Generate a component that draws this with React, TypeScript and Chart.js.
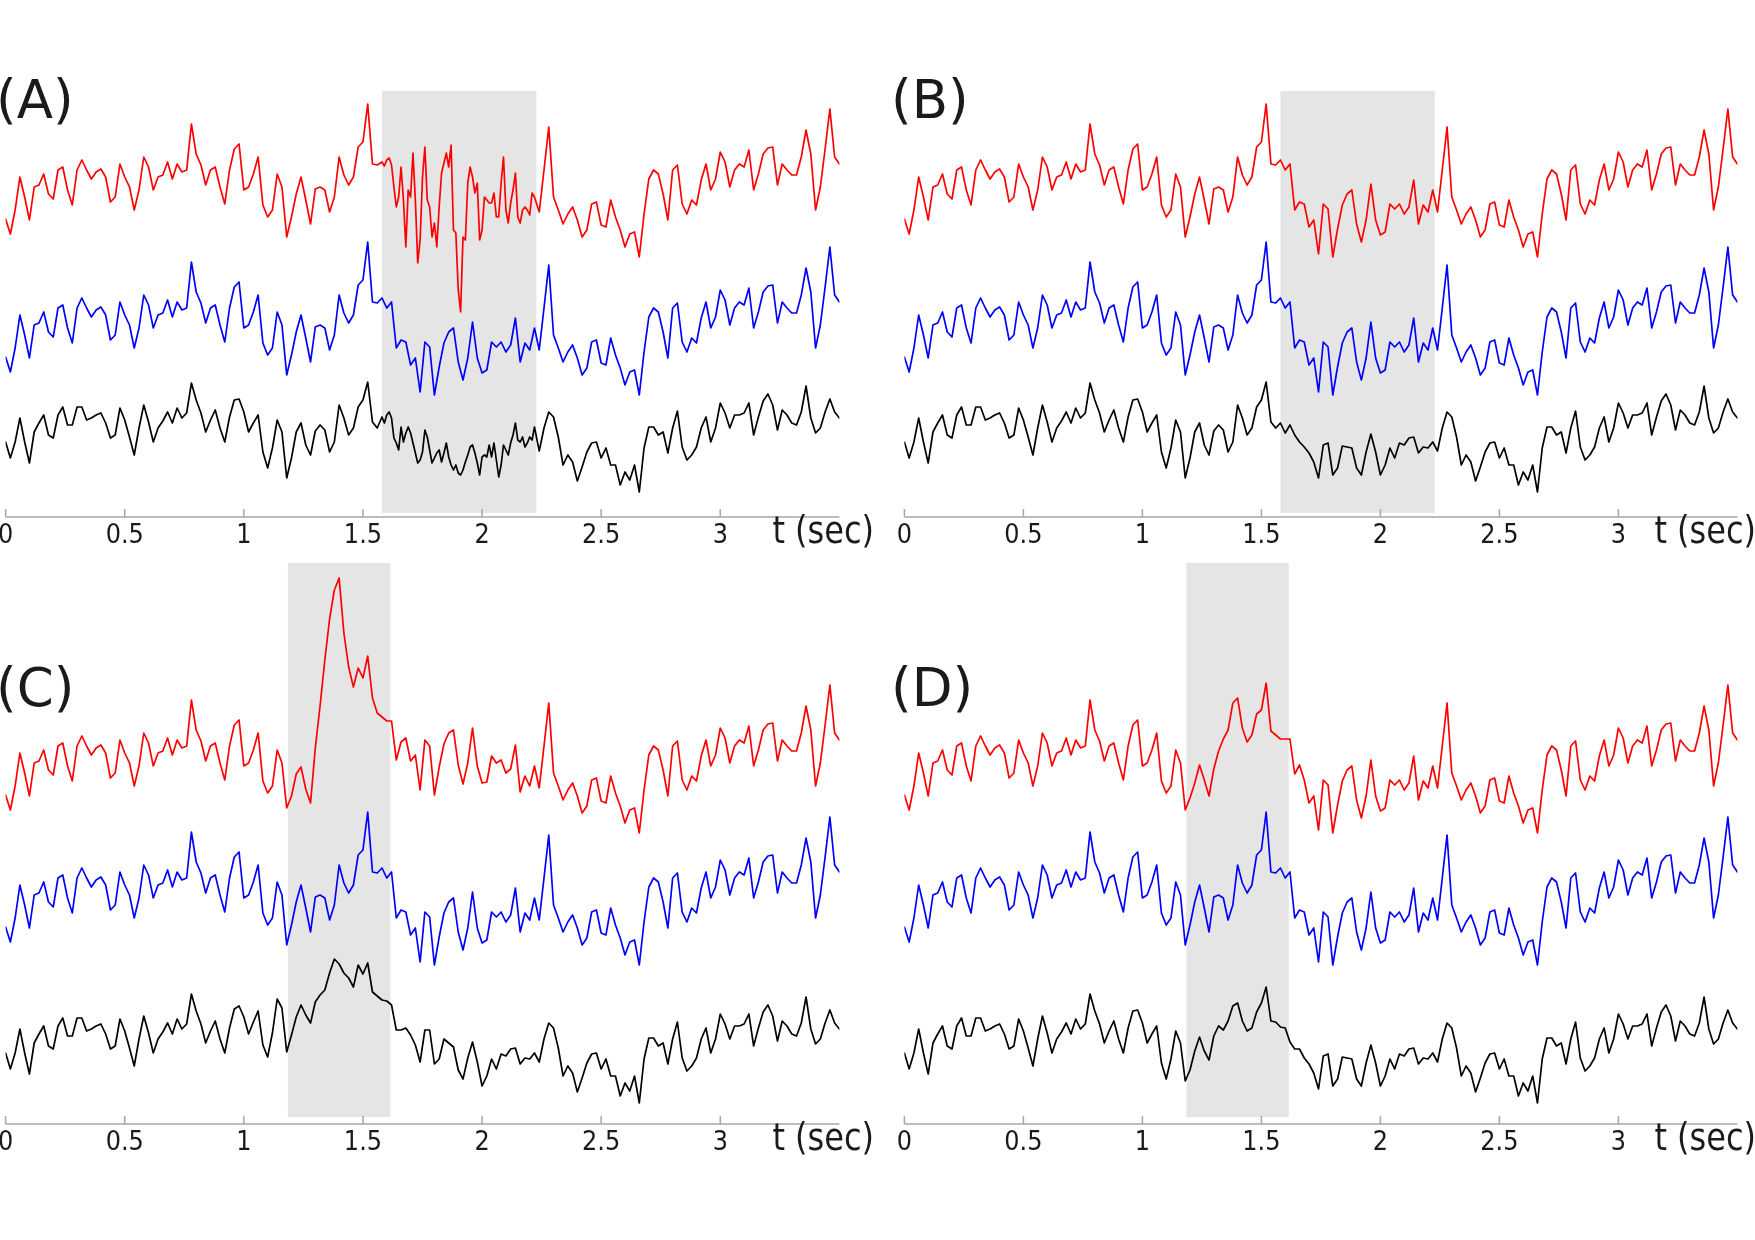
import React, { useEffect, useRef } from 'react';
import { Chart, registerables } from 'chart.js';
Chart.register(...registerables);

// ---- data (amplitudes, in screen-pixel units) ----
const T_STEP = 0.02; // base signals sampled every 0.02 s, 0 .. 3.5 s

const blueBase = [
  -2, -17, 7, 40, 20, -3, 30, 32, 43, 23,
  18, 47, 50, 27, 12, 47, 57, 47, 38, 45,
  48, 40, 15, 20, 53, 40, 30, 7, 27, 60,
  50, 27, 40, 42, 55, 38, 53, 45, 47, 93,
  63, 52, 32, 47, 50, 30, 13, 47, 68, 73,
  27, 30, 43, 60, 12, 0, 7, 43, 30, -20,
  0, 23, 40, 17, -7, 28, 30, 27, 5, 20,
  60, 42, 32, 40, 70, 75, 113, 53, 52, 57,
  47, 53, 7, 15, 13, -10, -3, -37, 13, 8,
  -40, -12, 12, 23, 27, -7, -25, -3, 33, -3,
  -18, -15, 13, 8, 13, 3, 10, 37, -7, 12,
  5, 27, 5, 47, 90, 20, 7, -7, 3, 10,
  -3, -20, -13, 13, 15, -8, -10, 17, 0, -13,
  -30, -17, -15, -40, 3, 38, 47, 43, 23, -3,
  47, 52, 13, 3, 17, 12, 37, 53, 27, 38,
  65, 55, 30, 47, 53, 50, 67, 27, 43, 63,
  69, 70, 32, 53, 47, 42, 42, 60, 87, 63,
  7, 30, 68, 108, 60, 53,
];

const blackBase = [
  3, -13, 3, 27, 3, -18, 13, 22, 30, 10,
  7, 30, 38, 20, 20, 38, 38, 25, 27, 30,
  32, 22, 7, 10, 37, 25, 8, -10, 17, 40,
  23, 3, 17, 24, 33, 22, 37, 27, 32, 62,
  45, 32, 13, 25, 35, 17, 3, 28, 45, 46,
  33, 13, 22, 30, -7, -23, -3, 25, 13, -33,
  -13, 13, 22, 0, -10, 14, 20, 15, -7, 3,
  40, 27, 10, 17, 38, 45, 63, 23, 17, 22,
  12, 20, 10, 3, -2, -8, -17, -33, 0, 2,
  -30, -23, -1, -2, -3, -23, -30, -7, 11, -7,
  -30, -20, -3, -13, 2, 0, 7, 8, -8, -2,
  -3, 3, -6, 17, 33, 28, 8, -20, -10, -17,
  -36, -22, -7, 2, 3, -13, -3, -20, -20, -40,
  -27, -35, -20, -47, -3, 18, 18, 10, 13, -8,
  17, 34, -2, -15, -10, -2, 17, 28, 3, 17,
  42, 32, 17, 30, 30, 32, 42, 10, 28, 44,
  51, 40, 15, 35, 30, 22, 20, 33, 59, 27,
  12, 17, 33, 46, 33, 27,
];

// panel A, shaded window: sampled every 0.01 s from 1.58 s
const SEG_A_T0 = 1.58;
const SEG_A_STEP = 0.01;
const redA_seg = [
  55, 51, 57, 59, 52, 30, 10, 20, 50, 17,
  -30, 27, 20, 64, 17, -46, -23, 40, 70, 17,
  10, -20, -6, -30, 10, 44, 54, 64, 50, 72,
  -13, -16, -73, -95, -20, -23, 34, 50, 40, 24,
  34, -23, -13, 20, 17, 14, 14, 24, 0, 0,
  34, 60, 7, -6, 14, 27, 44, 0, -6, 7,
  10, 7, 2, 24, 20,
];
const blackA_seg = [
  28, 22, 30, 33, 27, 7, 2, -5, 18, 3,
  12, 18, 12, 2, -8, -18, -15, -7, 15, 8,
  -5, -18, -13, -8, -5, -17, -8, 2, -12, -20,
  -25, -20, -28, -30, -25, -17, -10, -2, 0, -8,
  -18, -30, -12, -10, -12, 0, -12, 2, -15, -32,
  -20, 0, -5, -10, 2, 10, 22, 5, 3, 8,
  -2, 2, 8, 5, 18,
];

// panel C: red sampled every 0.02 s from 1.18 s, black from 0.96 s
const SEG_RED_C_T0 = 1.18;
const redC_seg = [
  -15, -3, 19, 26, 4, -10, 45, 87, 133, 174,
  203, 215, 160, 126, 106, 125, 115, 137, 95, 80,
  76, 72, 72, 33, 51, 55, 32, 38, 3, 53,
  47, -2, 26, 49, 60, 63, 28, 9, 30, 65,
  27, 10, 11, 37, 30, 33, 20, 24, 48, 1,
  17, 7,
];
const SEG_BLACK_C_T0 = 0.96;
const blackC_seg = [
  47, 50, 39, 22, 34, 45, 11, -1, 23, 57,
  48, 4, 21, 39, 51, 41, 33, 54, 61, 66,
  83, 97, 92, 83, 78, 69, 91, 82, 93, 64,
  60, 56, 55, 51, 26, 26, 28, 21, 11, -6,
  26, 26, -8, -3, 17, 13, 9, -14, -23, -2,
  14, -6,
];
// panel D: sampled every 0.02 s from 1.18 s
const SEG_D_T0 = 1.18;
const redD_seg = [-17, -5, 10, 28, 13, -3, 24, 42, 54, 63, 90, 95, 65, 51, 58, 79, 83, 110, 62, 58, 54, 54, 54, 19, 28];
const blackD_seg = [-25, -14, 5, 19, 5, -4, 20, 30, 26, 35, 50, 53, 35, 25, 28, 44, 53, 69, 35, 34, 29, 28, 14, 7, 7];

const tickValues = [0, 0.5, 1, 1.5, 2, 2.5, 3];
const tickLabels = ['0', '0.5', '1', '1.5', '2', '2.5', '3'];
const shadeAB = [1.58, 2.228];
const shadeCD = [1.185, 1.615];
const T_MAX = 3.5;

type Seg = { t0: number; step: number; values: number[] };

function buildSeries(base: number[], offset: number, seg?: Seg) {
  const pts: { x: number; y: number }[] = [];
  const segEnd = seg ? seg.t0 + seg.step * (seg.values.length - 1) : 0;
  base.forEach((v, i) => {
    const t = Math.round(i * T_STEP * 1000) / 1000;
    if (seg && t >= seg.t0 - 1e-6 && t <= segEnd + 1e-6) return;
    pts.push({ x: t, y: offset + v });
  });
  if (seg) seg.values.forEach((v, i) => pts.push({ x: Math.round((seg.t0 + i * seg.step) * 1000) / 1000, y: offset + v }));
  pts.sort((a, b) => a.x - b.x);
  return pts;
}

function drawText(ctx: CanvasRenderingContext2D, text: string, x: number, y: number, size: number, sy: number, align: CanvasTextAlign) {
  ctx.save();
  ctx.translate(x, y);
  ctx.scale(1, sy);
  ctx.font = `${size}px "DejaVu Sans"`;
  ctx.textAlign = align;
  ctx.textBaseline = 'alphabetic';
  ctx.fillStyle = '#1a1a1a';
  ctx.fillText(text, 0, 0);
  ctx.restore();
}

const panelDecor = {
  id: 'panelDecor',
  beforeDatasetsDraw(chart: any, _args: any, opts: any) {
    const { ctx, scales } = chart;
    const x = scales.x, y = scales.y;
    ctx.save();
    ctx.fillStyle = '#e5e5e5';
    const x0 = x.getPixelForValue(opts.shade[0]);
    const x1 = x.getPixelForValue(opts.shade[1]);
    const y0 = y.getPixelForValue(opts.shadeY[1]);
    const y1 = y.getPixelForValue(opts.shadeY[0]);
    ctx.fillRect(x0, y0, x1 - x0, y1 - y0);
    ctx.restore();
  },
  afterDraw(chart: any, _args: any, opts: any) {
    const { ctx, scales, chartArea } = chart;
    const x = scales.x;
    const yA = chartArea.bottom;
    ctx.save();
    ctx.strokeStyle = '#a6a6a6';
    ctx.lineWidth = 1.5;
    ctx.beginPath();
    ctx.moveTo(x.getPixelForValue(0), yA);
    ctx.lineTo(x.getPixelForValue(T_MAX), yA);
    tickValues.forEach((t) => {
      const px = x.getPixelForValue(t);
      ctx.moveTo(px, yA);
      ctx.lineTo(px, yA - 8);
    });
    ctx.stroke();
    ctx.restore();
    tickValues.forEach((t, i) => {
      drawText(ctx, tickLabels[i], x.getPixelForValue(t), yA + 26, 24, 1.1, 'center');
    });
    drawText(ctx, 't (sec)', x.getPixelForValue(T_MAX) + opts.unitDx, yA + 26, 32, 1.15, 'left');
    drawText(ctx, opts.letter, opts.letterX, opts.letterY, 53, 1.0, 'left');
  },
};

type PanelDef = {
  letter: string;
  left: number; top: number; width: number; height: number;
  plotLeft: number; plotRight: number; axisY: number;
  shade: number[]; shadeY: number[];
  red: { x: number; y: number }[]; blue: { x: number; y: number }[]; black: { x: number; y: number }[];
  letterX: number; letterY: number; unitDx: number;
};

const offAB = [300, 162, 72];
const offCD = [331, 199, 68];

const panels: PanelDef[] = [
  {
    letter: '(A)', left: 0, top: 60, width: 880, height: 500, plotLeft: 5.6, plotRight: 839.4, axisY: 517,
    shade: shadeAB, shadeY: [4, 426],
    red: buildSeries(blueBase, offAB[0], { t0: SEG_A_T0, step: SEG_A_STEP, values: redA_seg }),
    blue: buildSeries(blueBase, offAB[1]),
    black: buildSeries(blackBase, offAB[2], { t0: SEG_A_T0, step: SEG_A_STEP, values: blackA_seg }),
    letterX: -4, letterY: 58, unitDx: -67,
  },
  {
    letter: '(B)', left: 880, top: 60, width: 875, height: 500, plotLeft: 904.4, plotRight: 1737.4, axisY: 517,
    shade: shadeAB, shadeY: [4, 426],
    red: buildSeries(blueBase, offAB[0]),
    blue: buildSeries(blueBase, offAB[1]),
    black: buildSeries(blackBase, offAB[2]),
    letterX: 11, letterY: 58, unitDx: -83,
  },
  {
    letter: '(C)', left: 0, top: 560, width: 880, height: 630, plotLeft: 5.6, plotRight: 839.4, axisY: 1124,
    shade: shadeCD, shadeY: [7, 561],
    red: buildSeries(blueBase, offCD[0], { t0: SEG_RED_C_T0, step: T_STEP, values: redC_seg }),
    blue: buildSeries(blueBase, offCD[1]),
    black: buildSeries(blackBase, offCD[2], { t0: SEG_BLACK_C_T0, step: T_STEP, values: blackC_seg }),
    letterX: -4, letterY: 146, unitDx: -67,
  },
  {
    letter: '(D)', left: 880, top: 560, width: 875, height: 630, plotLeft: 904.4, plotRight: 1737.4, axisY: 1124,
    shade: shadeCD, shadeY: [7, 561],
    red: buildSeries(blueBase, offCD[0], { t0: SEG_D_T0, step: T_STEP, values: redD_seg }),
    blue: buildSeries(blueBase, offCD[1]),
    black: buildSeries(blackBase, offCD[2], { t0: SEG_D_T0, step: T_STEP, values: blackD_seg }),
    letterX: 11, letterY: 146, unitDx: -83,
  },
];

function Panel({ p }: { p: PanelDef }) {
  const ref = useRef<HTMLCanvasElement | null>(null);
  useEffect(() => {
    if (!ref.current) return;
    const padLeft = p.plotLeft - p.left;
    const padRight = p.left + p.width - p.plotRight;
    const padBottom = p.top + p.height - p.axisY;
    const yMax = p.axisY - p.top;
    const ds = (data: any, color: string) => ({
      data, borderColor: color, borderWidth: 1.7, pointRadius: 0, tension: 0, fill: false,
      borderJoinStyle: 'round' as const, borderCapStyle: 'round' as const,
    });
    const chart = new Chart(ref.current, {
      type: 'line',
      data: { datasets: [ds(p.red, '#ff0000'), ds(p.blue, '#0000ff'), ds(p.black, '#000000')] },
      options: {
        animation: false,
        responsive: false,
        devicePixelRatio: 1,
        layout: { padding: { left: padLeft, right: padRight, top: 0, bottom: padBottom } },
        scales: {
          x: { type: 'linear', min: 0, max: T_MAX, display: false },
          y: { type: 'linear', min: 0, max: yMax, display: false },
        },
        plugins: {
          legend: { display: false },
          tooltip: { enabled: false },
          panelDecor: { shade: p.shade, shadeY: p.shadeY, letter: p.letter, letterX: p.letterX, letterY: p.letterY, unitDx: p.unitDx },
        } as any,
      },
      plugins: [panelDecor as any],
    });
    return () => chart.destroy();
  }, [p]);
  return (
    <canvas
      ref={ref}
      width={p.width}
      height={p.height}
      style={{ position: 'absolute', left: p.left, top: p.top, width: p.width, height: p.height }}
    />
  );
}

export default function App() {
  return (
    <div style={{ position: 'absolute', left: 0, top: 0, width: 1755, height: 1240, background: '#ffffff', overflow: 'hidden' }}>
      {panels.map((p) => (
        <Panel key={p.letter} p={p} />
      ))}
    </div>
  );
}
